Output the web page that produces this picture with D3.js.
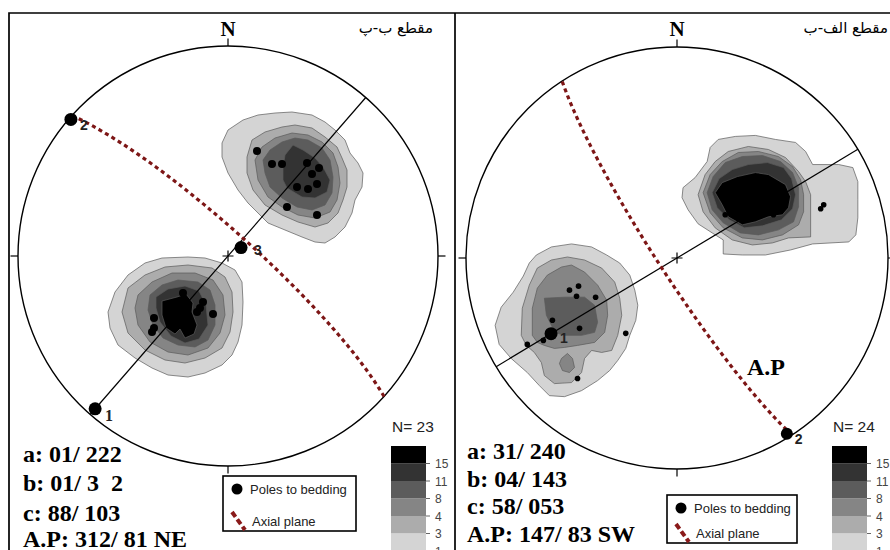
<!DOCTYPE html>
<html>
<head>
<meta charset="utf-8">
<script src="https://d3js.org/d3.v7.min.js"></script>
<style>
  body { margin:0; background:#fff; }
  .frame { stroke:#000; stroke-width:1.7px; fill:none; }
  .primitive { fill:none; stroke:#000; stroke-width:1.4px; }
  .tick { stroke:#000; stroke-width:1.2px; }
  .contour { stroke:#5a5a5a; stroke-width:0.7px; }
  .profile { stroke:#000; stroke-width:1.2px; fill:none; }
  .axial { fill:none; stroke:#7d1616; stroke-width:3.2px; stroke-dasharray:4,3.5; }
  .north { font-family:"Liberation Serif", serif; font-weight:bold; font-size:21px; }
  .title { font-family:"DejaVu Sans", sans-serif; font-size:15px; }
  .result { font-family:"Liberation Serif", serif; font-weight:bold; font-size:24px; white-space:pre; }
  .ptlabel { font-family:"Liberation Sans", sans-serif; font-size:14px; fill:#222; }
  .legend-text { font-family:"Liberation Sans", sans-serif; font-size:13px; fill:#222; }
  .bar-label { font-family:"Liberation Sans", sans-serif; font-size:12px; fill:#444; }
  .count { font-family:"Liberation Sans", sans-serif; font-size:15.5px; fill:#222; }
</style>
</head>
<body>
<svg id="chart" width="890" height="550"></svg>
<script>
// ---- data ----
const contourLevels = [1, 3, 4, 8, 11, 15];

// net grid units: east, north; primitive radius = 210
const leftContours = [
  {level:1, ring:[[-6,113],[0,126],[15,136],[30,141],[47,143],[64,144],[84,141],[97,134],[107,126],[117,116],[122,103],[130,93],[135,83],[134,69],[127,56],[124,43],[117,29],[107,19],[97,13],[87,14],[74,19],[57,26],[40,33],[30,43],[20,53],[10,66],[0,83],[-6,99]]},
  {level:3, ring:[[19,99],[24,116],[37,124],[54,129],[67,131],[84,128],[97,119],[109,109],[114,98],[119,86],[119,69],[115,56],[110,43],[100,33],[87,29],[70,34],[54,41],[37,51],[25,66],[19,83]]},
  {level:4, ring:[[27,96],[34,109],[47,118],[64,123],[80,121],[94,114],[105,103],[110,89],[112,73],[109,56],[102,44],[87,38],[70,41],[54,49],[40,59],[30,76]]},
  {level:8, ring:[[35,96],[42,106],[54,114],[67,118],[80,116],[94,108],[102,96],[105,79],[104,63],[97,51],[84,46],[69,49],[54,58],[42,69],[37,83]]},
  {level:11, ring:[[57,101],[65,111],[75,106],[87,98],[95,89],[102,76],[99,64],[87,58],[74,59],[59,68],[55,76],[55,88]]},
  {level:1, ring:[[-83,-7],[-66,-2],[-40,-1],[-23,-2],[-6,-7],[7,-14],[14,-26],[15,-46],[14,-69],[10,-86],[4,-99],[-6,-109],[-23,-117],[-40,-121],[-60,-119],[-76,-112],[-93,-102],[-110,-89],[-118,-72],[-120,-56],[-113,-36],[-100,-19]]},
  {level:3, ring:[[-100,-32],[-83,-19],[-63,-11],[-40,-9],[-16,-12],[-3,-21],[4,-36],[5,-56],[2,-76],[-6,-92],[-23,-102],[-43,-107],[-63,-104],[-83,-94],[-100,-77],[-106,-56]]},
  {level:4, ring:[[-90,-39],[-76,-26],[-56,-17],[-33,-17],[-15,-24],[-5,-39],[-3,-59],[-8,-77],[-20,-92],[-40,-99],[-60,-96],[-78,-86],[-90,-69],[-93,-52]]},
  {level:8, ring:[[-78,-39],[-66,-29],[-50,-24],[-30,-26],[-18,-34],[-13,-49],[-13,-69],[-20,-84],[-33,-91],[-50,-89],[-65,-82],[-75,-69],[-80,-54]]},
  {level:11, ring:[[-72,-41],[-60,-33],[-43,-30],[-29,-35],[-22,-49],[-20,-69],[-29,-83],[-43,-87],[-57,-80],[-68,-66],[-72,-52]]},
  {level:15, ring:[[-66,-45],[-51,-41],[-42,-38],[-35,-47],[-36,-56],[-31,-69],[-34,-78],[-43,-82],[-48,-73],[-53,-78],[-62,-72],[-66,-59]]}
];

const rightContours = [
  {level:1, ring:[[5,60],[6,70],[18,80],[30,96],[33,110],[41,118],[58,121],[78,122],[98,118],[118,115],[128,106],[135,93],[161,93],[175,90],[180,76],[180,58],[180,40],[178,23],[171,16],[135,14],[113,8],[88,3],[65,3],[46,4],[46,18],[35,25],[21,34],[11,48]]},
  {level:3, ring:[[21,63],[28,83],[38,96],[51,106],[71,111],[91,108],[108,100],[121,86],[128,76],[133,63],[133,21],[111,20],[95,15],[75,13],[55,18],[38,30],[26,46]]},
  {level:4, ring:[[26,65],[33,83],[45,96],[61,105],[81,106],[101,101],[115,91],[123,78],[126,63],[126,46],[121,33],[105,23],[85,18],[65,20],[46,30],[33,45]]},
  {level:8, ring:[[30,65],[36,81],[48,95],[65,101],[85,102],[103,96],[115,85],[121,70],[121,51],[116,36],[101,28],[81,23],[63,25],[46,35],[35,48]]},
  {level:11, ring:[[35,65],[42,79],[55,88],[71,93],[90,95],[106,90],[114,79],[118,63],[115,49],[104,38],[85,32],[67,30],[52,38],[40,50]]},
  {level:15, ring:[[38,65],[45,75],[60,81],[78,85],[91,83],[108,73],[113,61],[111,50],[105,43],[91,41],[78,36],[65,33],[51,41],[45,53]]},
  {level:1, ring:[[-140,3],[-125,11],[-105,14],[-85,11],[-70,3],[-57,-5],[-47,-17],[-42,-32],[-39,-47],[-41,-62],[-47,-77],[-51,-90],[-59,-102],[-67,-112],[-79,-122],[-95,-132],[-112,-138],[-127,-137],[-137,-127],[-149,-114],[-165,-100],[-177,-86],[-181,-67],[-175,-49],[-163,-34],[-153,-18],[-147,-5]]},
  {level:3, ring:[[-155,-77],[-154,-50],[-147,-27],[-139,-10],[-125,-2],[-109,1],[-92,-2],[-75,-10],[-62,-24],[-57,-40],[-55,-57],[-59,-77],[-65,-92],[-75,-94],[-85,-92],[-92,-100],[-95,-114],[-105,-124],[-122,-125],[-132,-117],[-135,-104],[-142,-94],[-150,-87]]},
  {level:4, ring:[[-144,-77],[-144,-50],[-139,-30],[-129,-17],[-115,-9],[-105,-7],[-92,-14],[-79,-27],[-70,-42],[-69,-57],[-72,-74],[-82,-84],[-99,-87],[-112,-89],[-122,-90],[-132,-87],[-139,-84]]},
  {level:8, ring:[[-132,-40],[-112,-39],[-92,-39],[-82,-47],[-79,-64],[-82,-74],[-95,-77],[-112,-77],[-122,-74],[-125,-67],[-130,-57]]},
  {level:4, ring:[[-115,-100],[-109,-95],[-104,-100],[-102,-109],[-107,-114],[-114,-112],[-117,-105]]}
];

const leftPoles = [[29,105],[44,92],[54,92],[79,93],[84,82],[91,88],[89,72],[80,67],[69,69],[59,49],[89,41],
  [-45,-37],[-25,-46],[-28,-52],[-31,-56],[-15,-58],[-74,-62],[-74,-72],[-76,-76]];
const rightPoles = [[143,49],[146,53],[48,43],[81,81],[96,43],
  [-107,-32],[-98,-28],[-100,-38],[-81,-39],[-124,-62],[-97,-70],[-133,-82],[-149,-86],[-51,-75],[-99,-120]];

// fold axes (trend, plunge) as drawn
const leftAxes = [{id:"1", trend:221, plunge:4}, {id:"2", trend:311, plunge:1}, {id:"3", trend:57, plunge:84}];
const rightAxes = [{id:"1", trend:239, plunge:31}, {id:"2", trend:148, plunge:2}];

const leftPlane = {strike:312, dip:81};
const rightPlane = {strike:147, dip:83};
const leftProfileTrend = 221;
const rightProfileTrend = 239;

const leftTitle = "مقطع ب-پ";
const rightTitle = "مقطع الف-ب";
const leftResults = ["a: 01/ 222", "b: 01/ 3  2", "c: 88/ 103", "A.P: 312/ 81 NE"];
const rightResults = ["a: 31/ 240", "b: 04/ 143", "c: 58/ 053", "A.P: 147/ 83 SW"];
const leftCount = 23;
const rightCount = 24;
const legendLabels = ["Poles to bedding", "Axial plane"];

// ---- layout / style ----
const NET_R = 210;
const rad = Math.PI / 180;
const fills = ["#d4d4d4", "#acacac", "#858585", "#5c5c5c", "#333333", "#000000"];
const fillScale = d3.scaleOrdinal().domain(contourLevels).range(fills);

const panels = [
  {cx:228, cy:256, R:210, contours:leftContours, poles:leftPoles, poleR:4, axes:leftAxes, axisR:[6.5,6.5,6.5],
   labelOff:[[10,12,true],[9,11,false],[13,7,false]], plane:leftPlane, profile:leftProfileTrend,
   title:leftTitle, titleX:433, results:leftResults, resX:23, resY:[462,491,521,547], count:leftCount,
   barX:391, legend:{x:223, y:476, w:133, h:55}},
  {cx:677, cy:258, R:211, contours:rightContours, poles:rightPoles, poleR:2.8, axes:rightAxes, axisR:[6.5,6],
   labelOff:[[9,9,false],[8,10,false]], plane:rightPlane, profile:rightProfileTrend,
   title:rightTitle, titleX:888, results:rightResults, resX:467, resY:[459,487,514,542], count:rightCount,
   barX:832, legend:{x:667, y:495, w:130, h:48}, apLabel:true}
];

const svg = d3.select("#chart");

// lower hemisphere equal-area projection of a line, in net units
function stereo(trend, plunge) {
  const r = NET_R * Math.SQRT2 * Math.sin((90 - plunge) / 2 * rad);
  return [r * Math.sin(trend * rad), r * Math.cos(trend * rad)];
}

function greatCircle(plane) {
  const dd = plane.strike + 90;
  const s = [Math.sin(plane.strike * rad), Math.cos(plane.strike * rad), 0];
  const d = [Math.cos(plane.dip * rad) * Math.sin(dd * rad), Math.cos(plane.dip * rad) * Math.cos(dd * rad), Math.sin(plane.dip * rad)];
  return d3.range(0, 180.1, 2).map(a => {
    const c = Math.cos(a * rad), sn = Math.sin(a * rad);
    const v = [c * s[0] + sn * d[0], c * s[1] + sn * d[1], c * s[2] + sn * d[2]];
    const pl = Math.asin(Math.max(-1, Math.min(1, v[2]))) / rad;
    const tr = Math.atan2(v[0], v[1]) / rad;
    return stereo(tr, pl);
  });
}

// frame
svg.append("path").attr("class", "frame").attr("d", "M9,550 V13 H890");
svg.append("line").attr("class", "frame").attr("x1", 455).attr("x2", 455).attr("y1", 13).attr("y2", 550);

panels.forEach(p => {
  const x = d3.scaleLinear().domain([-NET_R, NET_R]).range([p.cx - p.R, p.cx + p.R]);
  const y = d3.scaleLinear().domain([-NET_R, NET_R]).range([p.cy + p.R, p.cy - p.R]);
  const g = svg.append("g");
  const line = d3.line().x(d => x(d[0])).y(d => y(d[1]));

  // contours, lightest first
  const sorted = p.contours.slice().sort((a, b) => a.level - b.level);
  g.selectAll("path.contour").data(sorted).enter().append("path")
    .attr("class", "contour")
    .attr("fill", d => fillScale(d.level))
    .attr("d", d => line.curve(d3.curveLinearClosed)(d.ring));
  line.curve(d3.curveLinear);

  // primitive + ticks
  g.append("circle").attr("class", "primitive").attr("cx", p.cx).attr("cy", p.cy).attr("r", p.R);
  [0, 90, 180, 270].forEach(az => {
    const a = az * rad;
    g.append("line").attr("class", "tick")
      .attr("x1", p.cx + p.R * Math.sin(a)).attr("y1", p.cy - p.R * Math.cos(a))
      .attr("x2", p.cx + (p.R + 7.5) * Math.sin(a)).attr("y2", p.cy - (p.R + 7.5) * Math.cos(a));
  });
  g.append("text").attr("class", "north").attr("x", p.cx).attr("y", 36).attr("text-anchor", "middle").text("N");
  g.append("text").attr("class", "title").attr("x", p.titleX).attr("y", 33).attr("text-anchor", "end").text(p.title);

  // center cross
  g.append("path").attr("class", "tick")
    .attr("d", `M${p.cx - 5.5},${p.cy} H${p.cx + 5.5} M${p.cx},${p.cy - 5.5} V${p.cy + 5.5}`);

  // profile line (diameter)
  const ends = [stereo(p.profile, 0), stereo(p.profile + 180, 0)];
  g.append("path").attr("class", "profile").attr("d", line(ends));

  // axial plane great circle
  g.append("path").attr("class", "axial").attr("d", line(greatCircle(p.plane)));

  // poles
  g.selectAll("circle.pole").data(p.poles).enter().append("circle")
    .attr("class", "pole").attr("cx", d => x(d[0])).attr("cy", d => y(d[1])).attr("r", p.poleR).attr("fill", "#000");

  // fold axes
  p.axes.forEach((a, i) => {
    const pt = stereo(a.trend, a.plunge);
    g.append("circle").attr("cx", x(pt[0])).attr("cy", y(pt[1])).attr("r", p.axisR[i]).attr("fill", "#000");
    const off = p.labelOff[i];
    g.append("text").attr("class", "ptlabel")
      .attr("x", x(pt[0]) + off[0]).attr("y", y(pt[1]) + off[1])
      .style("font-family", off[2] ? "'Liberation Serif', serif" : null)
      .style("font-size", off[2] ? "16px" : null)
      .style("font-weight", "bold")
      .text(a.id);
  });

  if (p.apLabel) {
    g.append("text").attr("class", "result").attr("x", 747).attr("y", 375).text("A.P");
  }

  // results text
  g.selectAll("text.res").data(p.results).enter().append("text")
    .attr("class", "result res").attr("x", p.resX).attr("y", (d, i) => p.resY[i]).text(d => d);

  // colour bar
  const bands = contourLevels.slice().reverse();
  const by = d3.scaleLinear().domain([0, bands.length]).range([446, 446 + 17.5 * bands.length]);
  g.append("text").attr("class", "count").attr("x", p.barX + 1).attr("y", 432).text("N= " + p.count);
  g.selectAll("rect.band").data(bands).enter().append("rect")
    .attr("x", p.barX).attr("y", (d, i) => by(i)).attr("width", 35).attr("height", 17.6)
    .attr("fill", d => fillScale(d));
  g.selectAll("line.bt").data(bands).enter().append("line")
    .attr("stroke", "#666").attr("stroke-width", 1)
    .attr("x1", p.barX + 35).attr("x2", p.barX + 39)
    .attr("y1", (d, i) => by(i + 1)).attr("y2", (d, i) => by(i + 1));
  g.selectAll("text.bl").data(bands).enter().append("text")
    .attr("class", "bar-label").attr("x", p.barX + 44).attr("y", (d, i) => by(i + 1) + 4.5).text(d => d);

  // legend box
  const L = p.legend;
  g.append("rect").attr("x", L.x).attr("y", L.y).attr("width", L.w).attr("height", L.h)
    .attr("fill", "#fff").attr("stroke", "#000").attr("stroke-width", 1.6);
  const ly = d3.scaleLinear().domain([0, 1]).range([L.y + 13, L.y + L.h - 10]);
  g.append("circle").attr("cx", L.x + 14).attr("cy", ly(0)).attr("r", 5.5).attr("fill", "#000");
  g.append("line").attr("x1", L.x + 9).attr("y1", ly(1) - 9).attr("x2", L.x + 22).attr("y2", ly(1) + 9)
    .attr("stroke", "#8a1a1a").attr("stroke-width", 4).attr("stroke-dasharray", "6,3");
  g.selectAll("text.lg").data(legendLabels).enter().append("text")
    .attr("class", "legend-text").attr("x", (d, i) => L.x + 27 + i * 2).attr("y", (d, i) => ly(i) + 4.5).text(d => d);
});
</script>
</body>
</html>
